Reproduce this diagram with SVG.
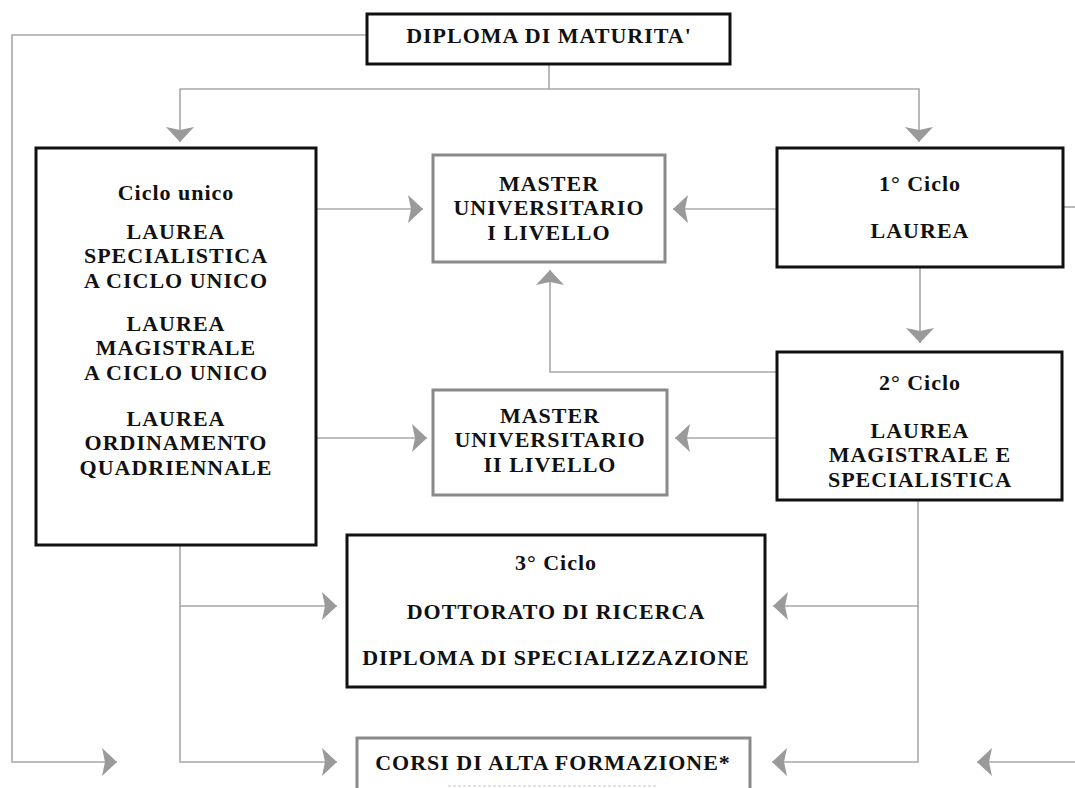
<svg xmlns="http://www.w3.org/2000/svg" width="1075" height="788" viewBox="0 0 1075 788">
<style>
.t{font-family:"Liberation Serif","Times New Roman",serif;font-weight:bold;font-size:22px;letter-spacing:1px;fill:#111;text-anchor:middle}
.bk{fill:#fff;stroke:#111;stroke-width:3}
.gy{fill:#fff;stroke:#8a8a8a;stroke-width:3}
.ln{fill:none;stroke:#a8a8a8;stroke-width:1.6}
.ar{fill:none;stroke:#a8a8a8;stroke-width:1.6;marker-end:url(#ah)}
</style>
<defs>
<marker id="ah" markerUnits="userSpaceOnUse" viewBox="0 0 15 28" refX="15" refY="14" markerWidth="15" markerHeight="28" orient="auto">
<path d="M0,0 L15,14 L0,28 L3,14 Z" fill="#9a9a9a"/>
</marker>
</defs>
<rect width="1075" height="788" fill="#fff"/>
<g id="connectors">
<path class="ar" d="M367,35 H12 V762 H117"/>
<path class="ln" d="M549,64 V89"/>
<path class="ar" d="M549,89 H180 V142"/>
<path class="ar" d="M549,89 H919 V142"/>
<path class="ar" d="M316,209 H423"/>
<path class="ar" d="M777,209 H673"/>
<path class="ar" d="M777,372 H550 V270"/>
<path class="ar" d="M920,267 V343"/>
<path class="ar" d="M316,438 H427"/>
<path class="ar" d="M777,438 H675"/>
<path class="ar" d="M180,545 V606 H337"/>
<path class="ar" d="M180,606 V762 H337"/>
<path class="ar" d="M918,500 V606 H773"/>
<path class="ar" d="M918,606 V762 H772"/>
<path class="ln" d="M1063,207 H1075"/>
<path class="ar" d="M1075,762 H977"/>
</g>
<g id="diploma">
<rect class="bk" x="367" y="14" width="363" height="50"/>
<text class="t" x="549" y="43">DIPLOMA DI MATURITA'</text>
</g>
<g id="ciclo-unico">
<rect class="bk" x="36" y="148" width="280" height="397"/>
<text class="t" x="176" y="200">Ciclo unico<tspan x="176" y="238.5">LAUREA</tspan><tspan x="176" y="263">SPECIALISTICA</tspan><tspan x="176" y="287.5">A CICLO UNICO</tspan><tspan x="176" y="330.5">LAUREA</tspan><tspan x="176" y="355">MAGISTRALE</tspan><tspan x="176" y="379.5">A CICLO UNICO</tspan><tspan x="176" y="425.5">LAUREA</tspan><tspan x="176" y="450">ORDINAMENTO</tspan><tspan x="176" y="474.5">QUADRIENNALE</tspan></text>
</g>
<g id="master-1">
<rect class="gy" x="433" y="155" width="232" height="107"/>
<text class="t" x="549" y="190.5">MASTER<tspan x="549" y="215">UNIVERSITARIO</tspan><tspan x="549" y="239.5">I LIVELLO</tspan></text>
</g>
<g id="primo-ciclo">
<rect class="bk" x="777" y="148" width="286" height="119"/>
<text class="t" x="920" y="191">1° Ciclo<tspan x="920" y="238">LAUREA</tspan></text>
</g>
<g id="master-2">
<rect class="gy" x="433" y="390" width="234" height="105"/>
<text class="t" x="550" y="422.5">MASTER<tspan x="550" y="447">UNIVERSITARIO</tspan><tspan x="550" y="471.5">II LIVELLO</tspan></text>
</g>
<g id="secondo-ciclo">
<rect class="bk" x="777" y="352" width="285" height="148"/>
<text class="t" x="920" y="390">2° Ciclo<tspan x="920" y="437.5">LAUREA</tspan><tspan x="920" y="462">MAGISTRALE E</tspan><tspan x="920" y="486.5">SPECIALISTICA</tspan></text>
</g>
<g id="terzo-ciclo">
<rect class="bk" x="347" y="535" width="418" height="152"/>
<text class="t" x="556" y="570">3° Ciclo<tspan x="556" y="619">DOTTORATO DI RICERCA</tspan><tspan x="556" y="665">DIPLOMA DI SPECIALIZZAZIONE</tspan></text>
</g>
<g id="corsi">
<path d="M357,790 V738 H750 V790" fill="#fff" stroke="#8a8a8a" stroke-width="3"/>
<path d="M448,786 H657" fill="none" stroke="#c8c8c8" stroke-width="1.2" stroke-dasharray="3 2"/>
<text class="t" x="553" y="770">CORSI DI ALTA FORMAZIONE*</text>
</g>
</svg>
